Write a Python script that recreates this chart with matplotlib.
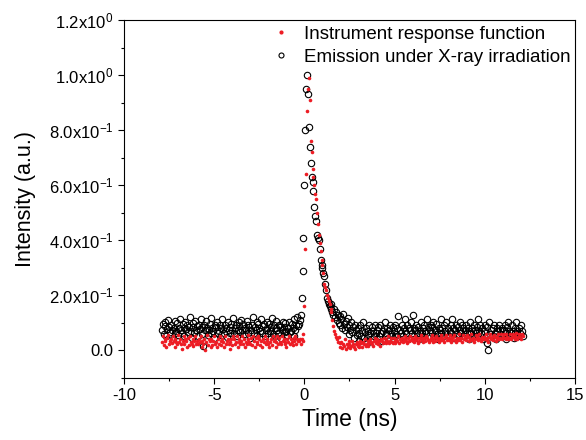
import numpy as np
import matplotlib
matplotlib.use("Agg")
import matplotlib.pyplot as plt
from matplotlib.ticker import MultipleLocator, FixedLocator

plt.rcParams['font.family'] = ['Liberation Sans', 'DejaVu Sans']
plt.rcParams['mathtext.fontset'] = 'custom'
plt.rcParams['mathtext.rm'] = 'Liberation Sans'
plt.rcParams['mathtext.it'] = 'Liberation Sans'
plt.rcParams['axes.unicode_minus'] = False

# time grid (ns), 0.05 ns per channel
T_START = -7.9
T_STEP = 0.05

# emission under X-ray irradiation, intensity x100
emission = [
    7.3, 9.6, 6.1, 8.8, 10.2, 5.4, 7.9, 11.1, 8.5, 6.7, 9.2, 7.6, 4.3, 8.1, 10.7, 6.4, 7.2, 9.9, 5.6, 8.3,
    11.5, 7.4, 6.2, 9.7, 8.1, 5.3, 10.4, 7.8, 9.3, 6.6, 8.5, 12.2, 7.1, 4.6, 9.8, 8.4, 6.3, 10.6, 7.5, 8.9,
    5.2, 9.4, 7.7, 11.3, 8.6, 6.1, 1.5, 9.2, 7.3, 10.8, 8.1, 5.7, 7.4, 9.6, 11.9, 6.5, 8.2, 7.1, 4.4, 9.3,
    8.7, 10.5, 6.3, 7.2, 9.4, 5.6, 8.1, 11.6, 7.7, 6.4, 9.1, 8.3, 4.8, 10.2, 7.5, 8.6, 6.2, 9.7, 7.3, 11.8,
    6.5, 8.2, 9.3, 5.1, 7.6, 10.4, 8.8, 6.7, 11.2, 7.4, 9.5, 5.8, 8.1, 7.3, 10.6, 6.2, 9.1, 8.4, 4.7, 7.5,
    9.2, 12.1, 6.4, 8.6, 7.3, 10.2, 5.5, 9.7, 8.2, 7.1, 11.4, 6.3, 8.8, 9.5, 5.2, 7.6, 10.3, 8.1, 6.4, 9.6,
    7.2, 8.5, 11.7, 6.1, 9.3, 5.4, 8.2, 10.6, 7.4, 6.3, 9.1, 8.7, 4.5, 7.3, 10.2, 8.4, 6.6, 9.8, 7.1, 5.5,
    8.3, 10.4, 6.7, 7.2, 9.6, 8.1, 5.3, 11.5, 7.4, 9.2, 12.3, 8.8,
    9.5, 11, 13, 19, 29, 41, 60, 80, 95, 100, 93, 81, 74, 68, 63,
    61, 58, 52, 49, 47, 42, 41, 40, 37, 33, 31, 30, 28, 27, 24,
    22, 19, 18, 17, 16, 15, 17, 14, 13, 15, 12, 14, 11, 13, 10,
    12.4, 9.1, 11.3, 8.2, 13.1, 9.6, 7.4, 10.8, 8.7, 11.9, 5.8, 9.3, 7.6, 10.5, 6.7, 8.4, 4.6, 9.2, 7.3, 5.5,
    8.1, 3.6, 6.4, 9.3, 5.2, 7.5, 10.2, 4.4, 6.8, 8.3, 2.7, 7.1, 5.6, 9.4, 6.2, 4.3, 8.5, 7.2, 5.4, 9.1,
    6.3, 4.2, 7.4, 8.6, 5.1, 9.3, 6.5, 3.4, 7.2, 8.1, 10.4, 5.6, 6.2, 8.3, 4.5, 7.4, 9.2, 6.1, 5.3, 8.4,
    7.2, 5.4, 9.3, 6.1, 8.2, 12.6, 4.3, 7.5, 6.4, 9.1, 5.2, 8.3, 11.5, 7.2, 6.3, 9.4, 4.1, 8.2, 7.4, 10.3,
    6.2, 12.8, 8.3, 5.1, 7.4, 9.2, 6.3, 8.5, 4.2, 7.1, 10.3, 6.4, 8.2, 5.3, 9.4, 7.1, 6.2, 11.3, 8.4, 5.2,
    7.3, 9.1, 6.2, 8.4, 10.2, 5.3, 7.4, 9.5, 6.1, 4.3, 8.2, 7.4, 11.6, 6.3, 8.1, 5.4, 9.3, 7.2, 10.4, 6.1,
    8.2, 5.3, 7.1, 9.4, 6.2, 11.3, 8.1, 4.4, 7.3, 9.2, 6.1, 8.4, 5.2, 10.3, 7.4, 6.3, 9.1, 8.2, 5.4, 7.3,
    9.2, 6.4, 8.1, 4.3, 7.2, 10.4, 6.3, 8.2, 5.1, 9.4, 7.3, 6.2, 8.5, 11.4, 5.3, 7.2, 9.1, 6.4, 8.3, 4.2,
    7.1, 9.3, 5.2, 8.4, 2.6, 0.2, 10.3, 6.1, 7.4, 5.3, 8.2, 9.4, 6.3, 4.2, 7.1, 8.3, 5.4, 9.2, 7.3, 6.1,
    8.2, 5.3, 7.4, 9.1, 6.2, 4.3, 8.4, 10.2, 7.1, 5.2, 6.4, 9.3, 7.2, 4.4, 8.1, 6.3, 10.4, 7.2, 5.3, 8.1,
    6.2, 9.3, 7.1, 5.4,
]

# instrument response function, intensity x100
irf = [
    3.2, 5.4, 2.1, 4.3, 3.6, 1.2, 4.5, 5.7, 2.3, 3.4, 4.1, 2.6, 5.2, 3.3, 1.4, 4.2, 3.1, 2.5, 5.6, 3.2,
    4.3, 2.2, 0.6, 3.4, 5.1, 2.3, 4.2, 3.6, 1.3, 4.4, 2.1, 5.3, 3.2, 2.4, 4.1, 1.5, 3.3, 5.2, 2.2, 3.4,
    2.3, 4.2, 3.1, 5.4, 1.2, 3.3, 2.4, 4.1, 0.3, 3.2, 5.5, 2.1, 4.3, 3.4, 1.3, 4.2, 2.1, 3.3, 5.1, 2.4,
    3.1, 1.4, 4.2, 2.3, 5.2, 3.4, 2.1, 4.3, 3.2, 1.3, 5.1, 2.2, 3.4, 4.1, 2.3, 0.4, 3.2, 4.3, 2.1, 5.4,
    4.1, 2.3, 3.2, 5.3, 1.4, 3.1, 4.2, 2.4, 3.3, 5.1, 2.2, 4.3, 1.1, 3.2, 2.4, 4.1, 5.5, 3.2, 2.3, 4.4,
    2.1, 5.2, 3.3, 1.2, 4.4, 2.3, 3.1, 5.3, 4.2, 2.1, 3.4, 1.3, 4.2, 3.1, 5.3, 2.2, 4.1, 3.3, 2.4, 1.2,
    3.2, 4.3, 2.1, 5.4, 3.3, 4.2, 1.4, 3.1, 5.2, 2.3, 4.4, 3.1, 2.2, 5.3, 3.4, 4.1, 2.3, 3.2, 1.1, 4.3,
    3.1, 5.2, 2.4, 4.3, 3.2, 2.1, 4.4, 3.3, 5.1, 2.2, 4.1, 3.3,
    3.4, 4.2, 2.5, 4.1, 3.3, 6, 16, 37, 64, 87, 95, 99, 91, 76, 72,
    66, 63, 60, 57, 55, 50, 46, 42, 39, 36, 33, 31, 28, 24, 23,
    22, 20, 19, 18, 17, 15, 14, 11, 9, 7, 6, 5, 4, 3, 5,
    2.6, 1.4, 3.2, 0.8, 2.3, 1.5, 4.1, 0.7, 2.4, 1.3, 3.5, 2.2, 0.9, 1.6, 3.3, 2.5, 1.2, 0.6, 2.4, 3.1,
    1.7, 2.4, 1.1, 3.3, 2.6, 1.4, 3.2, 2.5, 4.1, 1.6, 2.3, 3.4, 1.8, 2.7, 4.2, 3.1, 2.4, 1.5, 3.3, 4.4,
    2.7, 3.4, 4.3, 2.5, 3.6, 1.8, 4.2, 3.3, 2.6, 4.4, 3.1, 2.7, 4.3, 3.5, 5.2, 2.8, 3.4, 4.5, 3.2, 2.6,
    4.4, 3.3, 2.7, 4.2, 3.5, 5.3, 2.8, 4.1, 3.4, 4.6, 2.9, 3.7, 5.4, 4.2, 3.6, 2.8, 4.4, 3.3, 5.2, 3.8,
    4.6, 3.5, 2.9, 4.3, 5.4, 3.7, 4.5, 2.8, 3.6, 4.4, 5.5, 3.8, 4.7, 3.1, 4.5, 3.6, 5.3, 4.4, 3.7, 2.9,
    3.8, 4.6, 5.5, 3.7, 3.1, 4.4, 3.6, 5.4, 4.7, 3.8, 3.2, 4.6, 5.6, 3.9, 4.5, 3.7, 3.1, 4.8, 5.5, 3.9,
    4.7, 3.8, 5.6, 3.2, 4.6, 3.9, 4.8, 5.7, 3.8, 3.1, 4.7, 3.9, 5.8, 4.6, 3.8, 4.7, 3.2, 5.6, 4.1, 4.8,
    3.9, 5.7, 4.8, 3.3, 4.9, 4.1, 5.8, 3.9, 4.7, 3.2, 4.1, 5.6, 4.8, 3.9, 4.7, 5.9, 4.1, 3.4, 4.8, 4.2,
    4.9, 4.1, 5.8, 4.7, 3.9, 3.2, 4.8, 5.9, 4.2, 4.9, 3.8, 5.7, 4.9, 3.3, 4.1, 4.8, 5.9, 4.2, 4.7, 5.8,
    4.1, 4.8, 5.9, 4.6, 4.2, 5.8, 4.9, 4.1, 4.7, 5.9, 4.2, 4.9, 6.1, 4.8, 4.3, 5.1, 6.2, 4.2, 4.9, 5.8,
    4.8, 4.3, 5.9, 5.1,
]

y_ticks = [0.0, 0.2, 0.4, 0.6, 0.8, 1.0, 1.2]
y_labels = ['0.0', r'2.0x10$^{-1}$', r'4.0x10$^{-1}$', r'6.0x10$^{-1}$',
            r'8.0x10$^{-1}$', r'1.0x10$^{0}$', r'1.2x10$^{0}$']

t = T_START + T_STEP * np.arange(len(emission))
em = np.array(emission) / 100.
ir = np.array(irf) / 100.

fig = plt.figure(figsize=(5.86, 4.40), dpi=100)
ax = fig.add_axes([0.2116, 0.1409, 0.7696, 0.8136])

h_em, = ax.plot(t, em, 'o', ms=4.6, mfc='none', mec='black', mew=0.8,
                label='Emission under X-ray irradiation')
h_ir, = ax.plot(t, ir, 'o', ms=2.6, mfc='#ED1C24', mec='#ED1C24', mew=0,
                label='Instrument response function')

ax.set_xlim(-10, 15)
ax.set_ylim(-0.1, 1.2)
ax.xaxis.set_major_locator(MultipleLocator(5))
ax.xaxis.set_minor_locator(MultipleLocator(2.5))
ax.yaxis.set_major_locator(FixedLocator(y_ticks))
ax.set_yticklabels(y_labels)
ax.yaxis.set_minor_locator(MultipleLocator(0.1))
ax.tick_params(which='major', direction='out', length=4, width=0.8, labelsize=12)
ax.tick_params(which='minor', direction='out', length=2.5, width=0.8)
for s in ax.spines.values():
    s.set_linewidth(0.8)

ax.set_xlabel('Time (ns)', fontsize=16.5, labelpad=3)
ax.set_ylabel('Intensity (a.u.)', fontsize=15.5, labelpad=9)

leg = ax.legend([h_ir, h_em], [h_ir.get_label(), h_em.get_label()],
                loc='upper right', bbox_to_anchor=(1.015, 1.015), frameon=False,
                fontsize=13.5, handletextpad=0.45, borderaxespad=0.2,
                labelspacing=0.3, handlelength=1.5)
leg.legend_handles[0].set_markersize(3.0)
leg.legend_handles[1].set_markersize(3.6)

plt.savefig('out.png', dpi=100)
